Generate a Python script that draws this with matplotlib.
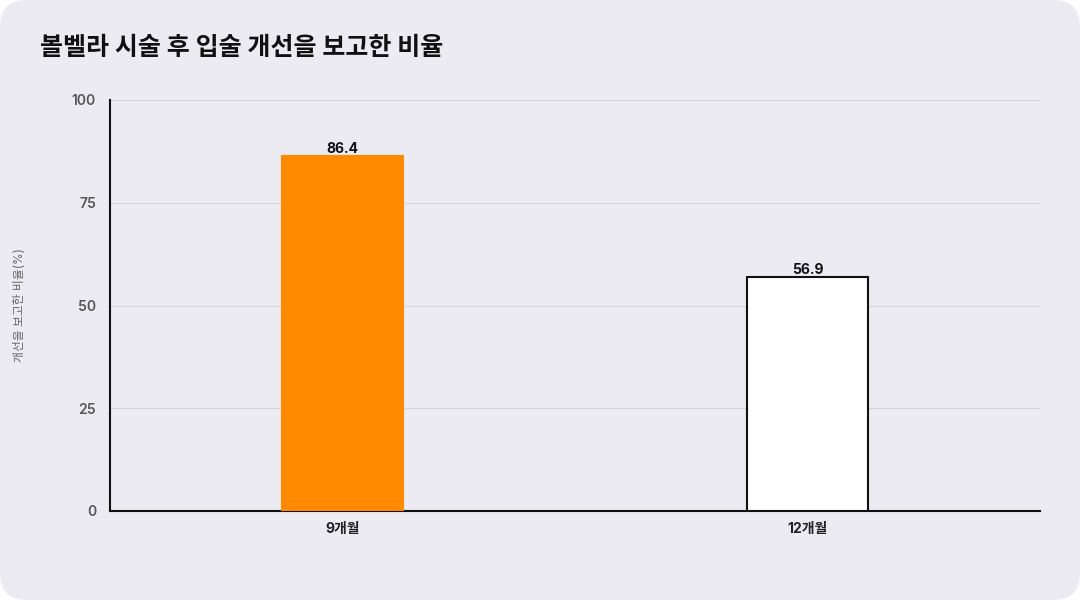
import matplotlib
matplotlib.use("Agg")
import matplotlib.pyplot as plt
from matplotlib.patches import FancyBboxPatch

plt.rcParams['font.family'] = ['Inter', 'Noto Sans CJK KR', 'DejaVu Sans']

categories = ["9개월", "12개월"]
values = [86.4, 56.9]
colors = ["#FF8A00", "#FFFFFF"]
edges = ["#FF8A00", "#111111"]
yticks = [0, 25, 50, 75, 100]

fig = plt.figure(figsize=(10.8, 6), dpi=100)
fig.patch.set_facecolor("white")
bg = FancyBboxPatch((0.0, 0.0), 1.0, 1.0, boxstyle="round,pad=0,rounding_size=0.025",
                    transform=fig.transFigure, facecolor="#ECEBF1", edgecolor="none", zorder=-10,
                    mutation_aspect=1.8)
fig.patches.append(bg)

ax = fig.add_axes([110/1080, 89/600, 930/1080, 411/600])
ax.set_facecolor("none")
x = range(len(categories))
ax.bar(x, values, width=0.26, color=colors, edgecolor=edges, linewidth=1.5, zorder=3)
for xi, v in zip(x, values):
    ax.text(xi, v, f"{v}", ha="center", va="bottom", fontsize=10, fontweight="bold", color="#111111")

ax.set_xlim(-0.5, 1.5)
ax.set_ylim(0, 100)
ax.set_yticks(yticks)
ax.set_xticks(list(x))
ax.set_xticklabels(categories, fontsize=10, fontweight="bold", color="#222222")
ax.tick_params(axis="y", length=0, labelsize=10, labelcolor="#555555", pad=10)
for t in ax.get_yticklabels():
    t.set_fontweight("semibold")
ax.tick_params(axis="x", length=0, pad=8)
ax.grid(axis="y", color="#D5D4DA", linewidth=0.8, zorder=0)
for s in ["top", "right"]:
    ax.spines[s].set_visible(False)
for s in ["left", "bottom"]:
    ax.spines[s].set_color("#111111")
    ax.spines[s].set_linewidth(1.5)

fig.text(20/1080, 1 - 305/600, "개선을 보고한 비율(%)", rotation=90, ha="center", va="center",
         fontsize=8.5, color="#666666")
fig.text(40/1080, 1 - 48/600, "볼벨라 시술 후 입술 개선을 보고한 비율", ha="left", va="center",
         fontsize=18, fontweight="bold", color="#111111")

fig.savefig("out.png", dpi=100)
